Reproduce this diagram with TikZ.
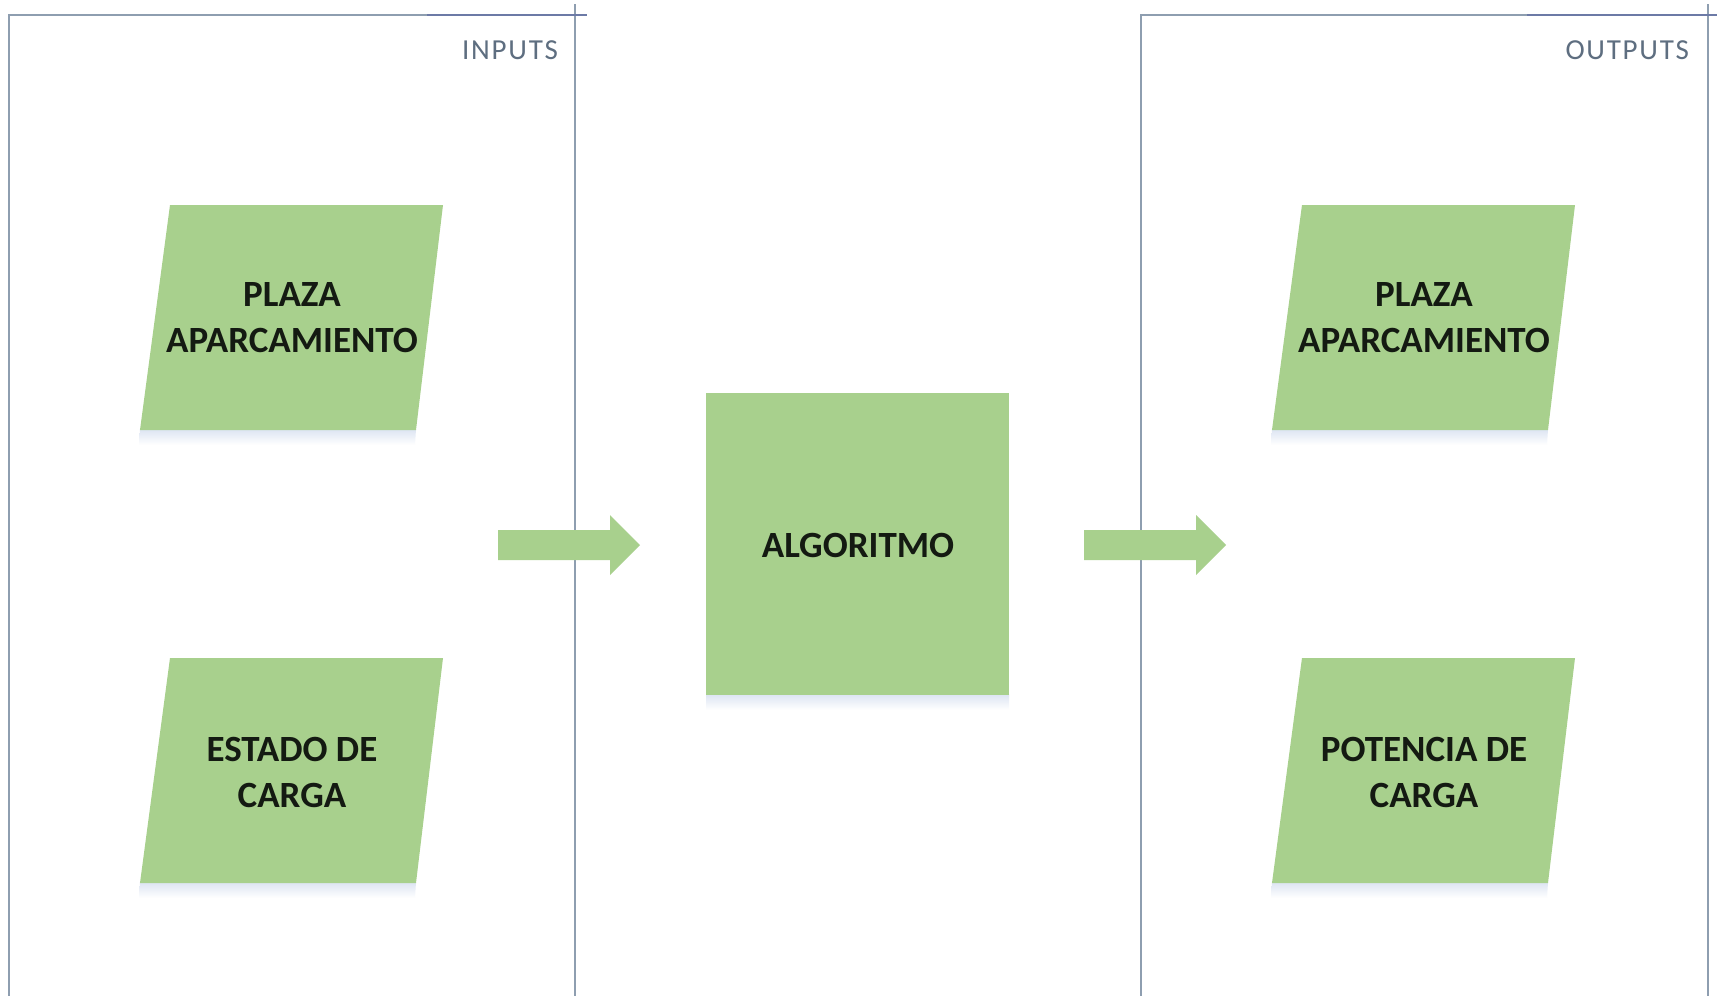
\documentclass[tikz,border=0pt]{standalone}
\usepackage{fontspec}
\setmainfont{Carlito}
\definecolor{boxgreen}{HTML}{A8D08D}
\definecolor{panelline}{HTML}{8E9EB0}
\definecolor{paneldark}{HTML}{6C7AA6}
\definecolor{paneltext}{HTML}{5E6E80}
\definecolor{shadowcol}{HTML}{DCE4F2}
\definecolor{txtcol}{HTML}{141A12}
\begin{document}
\begin{tikzpicture}[x=1pt,y=-1pt,
  panel/.style={draw=panelline,line width=2.6pt},
  paneltop/.style={draw=paneldark,line width=2.6pt},
  shapefill/.style={fill=boxgreen},
  shadowfill/.style={top color=shadowcol,bottom color=white},
  lbl/.style={align=center,text=txtcol,font=\bfseries\fontsize{37}{46}\selectfont,inner sep=0pt},
  hdr/.style={text=paneltext,font=\fontsize{29}{32}\selectfont\addfontfeature{LetterSpace=6},inner sep=0pt}
]
\useasboundingbox (0,0) rectangle (1717,996);
\fill[white] (0,0) rectangle (1717,996);

% ---- panels
\draw[panel] (9,996) -- (9,15) -- (587,15);
\draw[panel] (575,4) -- (575,996);
\draw[paneltop] (427,15) -- (587,15);
\draw[panel] (1141,996) -- (1141,15) -- (1717,15);
\draw[panel] (1708,4) -- (1708,996);
\draw[paneltop] (1527,15) -- (1717,15);
\node[hdr,anchor=base east] (inputs) at (558,59) {INPUTS};
\node[hdr,anchor=base east] (outputs) at (1689,59) {OUTPUTS};

% ---- shadows
\foreach \dx/\dy in {0/205,0/658,1132/205,1132/658}{
  \shade[shadowfill] ([shift={(\dx,\dy)}]140,224) -- ([shift={(\dx,\dy)}]416,224) -- ([shift={(\dx,\dy)}]415,240) -- ([shift={(\dx,\dy)}]139,240) -- cycle;
}
\shade[shadowfill] (706,694) rectangle (1009,710);

% ---- parallelograms
\foreach \dx/\dy in {0/205,0/658,1132/205,1132/658}{
  \fill[shapefill] ([shift={(\dx,\dy)}]170,0) -- ([shift={(\dx,\dy)}]443,0) -- ([shift={(\dx,\dy)}]416,225) -- ([shift={(\dx,\dy)}]140,225) -- cycle;
}
\node[lbl] (in1) at (292,318) {PLAZA\\APARCAMIENTO};
\node[lbl] (in2) at (292,772) {ESTADO DE\\CARGA};
\node[lbl] (out1) at (1424,318) {PLAZA\\APARCAMIENTO};
\node[lbl] (out2) at (1424,772) {POTENCIA DE\\CARGA};

% ---- algorithm box
\fill[shapefill] (706,393) rectangle (1009,695);
\node[lbl] (alg) at (858,545) {ALGORITMO};

% ---- block arrows
\fill[shapefill] (498,530) -- (610,530) -- (610,515) -- (640,545) -- (610,575) -- (610,560) -- (498,560) -- cycle;
\fill[shapefill] (1084,530) -- (1196,530) -- (1196,515) -- (1226,545) -- (1196,575) -- (1196,560) -- (1084,560) -- cycle;
\end{tikzpicture}
\end{document}
